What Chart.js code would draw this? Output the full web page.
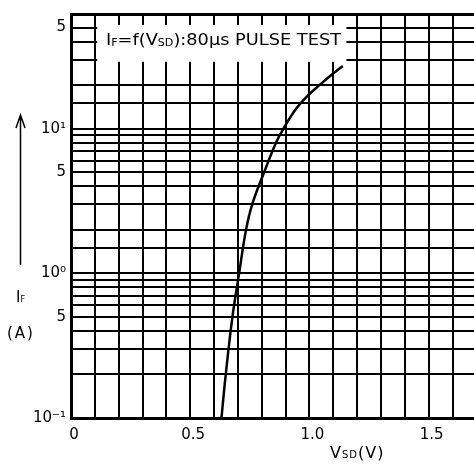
<!DOCTYPE html>
<html>
<head>
<meta charset="utf-8">
<script src="https://cdn.jsdelivr.net/npm/chart.js@4.4.0/dist/chart.umd.min.js"></script>
<style>
html, body { margin: 0; padding: 0; background: #fff; }
#wrap { width: 474px; height: 466px; position: relative; }
</style>
</head>
<body>
<div id="wrap"><canvas id="myChart"></canvas></div>
<script>
// forward current vs source-drain voltage
const vsd = [0.631, 0.649, 0.677, 0.705, 0.734, 0.760, 0.810, 0.861, 0.891, 0.944, 0.993, 1.042, 1.088, 1.140];
const iF  = [0.1,   0.2,   0.5,   1.0,   2,     3,     5,     8.1,   10,    13.7,  16.9,  20,    23.2,  27.1];

const xTickValues = [0, 0.5, 1.0, 1.5];
const xTickLabels = ['0', '0.5', '1.0', '1.5'];
const yTickValues = [0.1, 0.5, 1, 5, 10, 50];
const yTickLabels = ['10\u207B\u00B9', '5', '10\u2070', '5', '10\u00B9', '5'];

const Y_MAX = 62;

function labelFor(v, vals, labels) {
    for (let i = 0; i < vals.length; i++) {
        if (Math.abs(vals[i] - v) < 1e-6 * Math.max(1, Math.abs(v))) return labels[i];
    }
    return '';
}

// draws text pieces (normal / subscript) one after another
function drawRuns(ctx, x, y, runs) {
    let cx = x;
    runs.forEach(r => {
        ctx.font = r[1] + 'px "DejaVu Sans"';
        ctx.fillText(r[0], cx, y + (r[2] || 0));
        cx += ctx.measureText(r[0]).width;
    });
    return cx - x;
}
function runsWidth(ctx, runs) {
    let w = 0;
    runs.forEach(r => { ctx.font = r[1] + 'px "DejaVu Sans"'; w += ctx.measureText(r[0]).width; });
    return w;
}

const decor = {
    id: 'decor',
    beforeDatasetsDraw(chart) {
        const {ctx, scales: {x, y}} = chart;
        const l = x.getPixelForValue(0.11), r = x.getPixelForValue(1.155);
        const t = y.getPixelForValue(52), b = y.getPixelForValue(29);
        ctx.save();
        ctx.fillStyle = '#fff';
        ctx.fillRect(l, t, r - l, b - t);
        ctx.fillStyle = '#000';
        ctx.textBaseline = 'alphabetic';
        const note = [['I', 16], ['F', 10, 1], ['=f(V', 16], ['SD', 10, 1], ['):80\u03BCs PULSE TEST', 16]];
        const w = runsWidth(ctx, note);
        ctx.translate(106, 45);
        ctx.scale(235 / w, 1);
        drawRuns(ctx, 0, 0, note);
        ctx.restore();
    },
    afterDraw(chart) {
        const ctx = chart.ctx;
        ctx.save();
        ctx.fillStyle = '#000';
        ctx.strokeStyle = '#000';
        ctx.textBaseline = 'alphabetic';
        // x axis title
        ctx.letterSpacing = '1px';
        drawRuns(ctx, 330, 458, [['V', 16], ['SD', 10, 0], ['(V)', 16]]);
        // y axis title
        ctx.letterSpacing = '0px';
        drawRuns(ctx, 16, 302, [['I', 15], ['F', 8, 0]]);
        ctx.letterSpacing = '2px';
        drawRuns(ctx, 7, 338, [['(A)', 15]]);
        ctx.letterSpacing = '0px';
        // arrow
        ctx.lineWidth = 1.5;
        ctx.beginPath();
        ctx.moveTo(20.5, 265);
        ctx.lineTo(20.5, 116);
        ctx.moveTo(16, 128);
        ctx.lineTo(20.5, 115);
        ctx.lineTo(25, 128);
        ctx.stroke();
        ctx.restore();
    }
};

const ctx = document.getElementById('myChart').getContext('2d');
const myChart = new Chart(ctx, {
    type: 'line',
    data: {
        datasets: [{
            data: vsd.map((v, i) => ({x: v, y: iF[i]})),
            borderColor: '#000',
            borderWidth: 2.5,
            pointRadius: 0,
            tension: 0.4,
            fill: false
        }]
    },
    options: {
        responsive: true,
        maintainAspectRatio: false,
        animation: false,
        events: [],
        layout: { padding: { top: 12, right: 0, bottom: 0, left: 0 } },
        plugins: { legend: { display: false }, tooltip: { enabled: false } },
        scales: {
            x: {
                type: 'linear',
                min: 0,
                max: 1.69,
                afterFit: s => { s.height = 48; },
                border: { color: '#000', width: 3 },
                grid: { color: '#000', lineWidth: 2, drawTicks: false },
                ticks: {
                    stepSize: 0.1,
                    includeBounds: false,
                    autoSkip: false,
                    maxRotation: 0,
                    padding: 8,
                    labelOffset: 3,
                    color: '#000',
                    font: { family: 'DejaVu Sans', size: 15 },
                    callback: v => labelFor(v, xTickValues, xTickLabels)
                }
            },
            y: {
                type: 'logarithmic',
                min: 0.1,
                max: Y_MAX,
                afterFit: s => { s.width = 71; },
                afterBuildTicks: s => { s.ticks = s.ticks.filter(t => Math.abs(t.value - 60) > 1e-6); },
                border: { color: '#000', width: 3 },
                grid: {
                    color: '#000',
                    drawTicks: false,
                    lineWidth: c => (c.tick && Math.abs(c.tick.value - Y_MAX) < 1e-6) ? 3 : 2
                },
                ticks: {
                    autoSkip: false,
                    padding: 5,
                    color: '#000',
                    font: { family: 'DejaVu Sans', size: 15 },
                    callback: v => labelFor(v, yTickValues, yTickLabels)
                }
            }
        }
    },
    plugins: [decor]
});
</script>
</body>
</html>
